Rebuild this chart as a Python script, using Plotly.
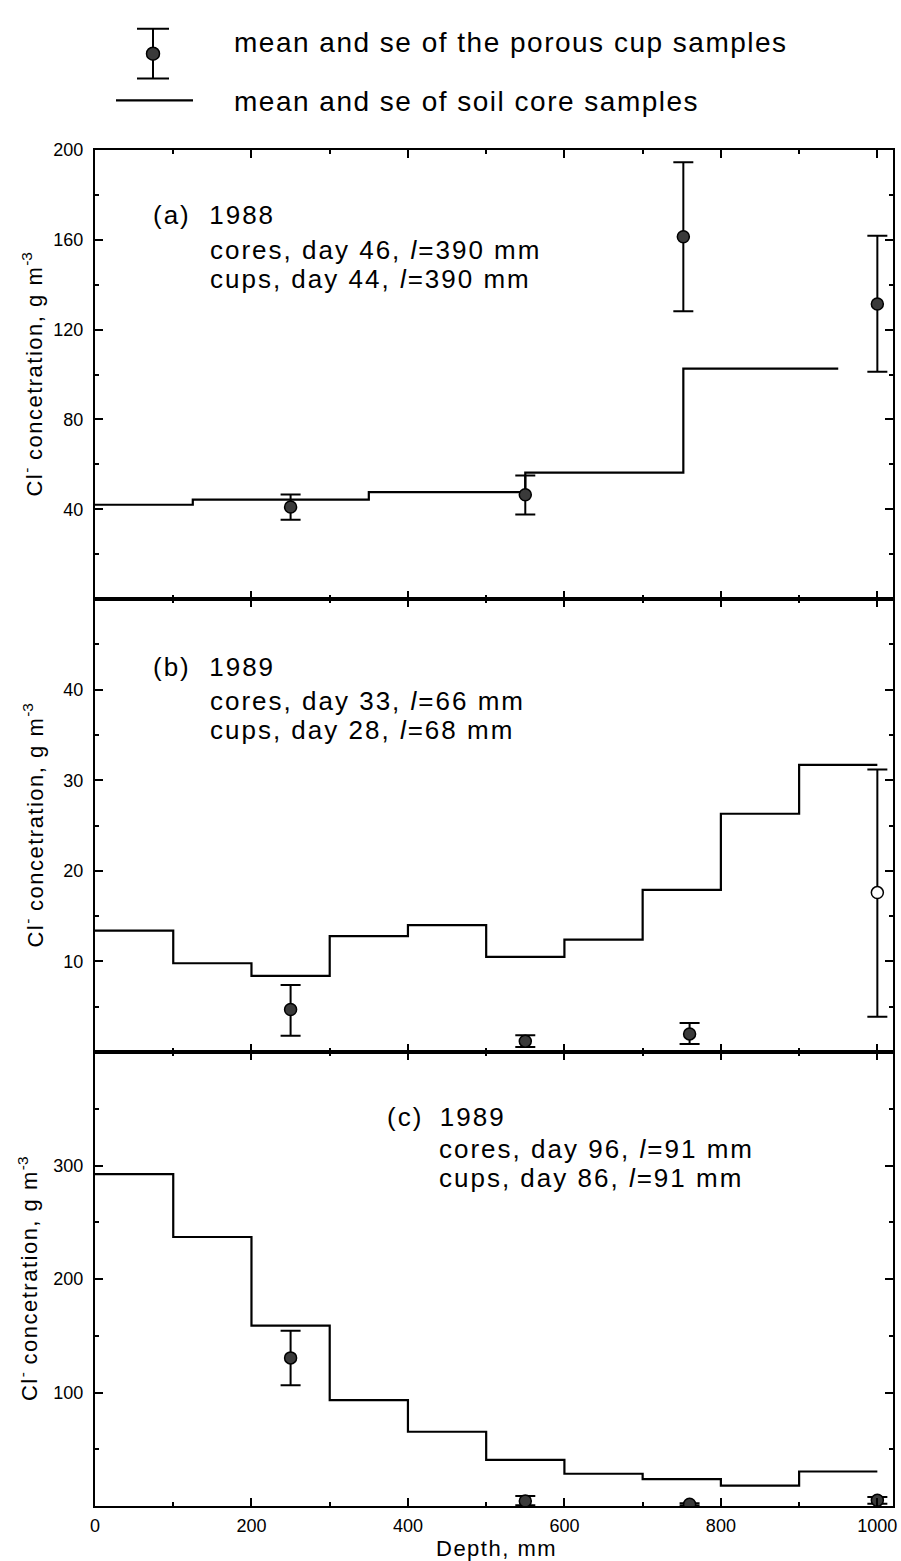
import plotly.graph_objects as go

FONT = "Liberation Sans, Arial, Helvetica, sans-serif"

# ---------------- data ----------------
# Panel (a) 1988
a_edges = [0, 125, 350, 550, 752, 950]
a_core = [42, 44.3, 47.6, 56.3, 102.6]
a_cup_depth = [250, 550, 752, 1000]
a_cup_mean = [41.0, 46.5, 161.4, 131.4]
a_cup_hi = [46.6, 55.0, 194.6, 161.8]
a_cup_lo = [35.3, 37.7, 128.2, 101.3]

# Panel (b) 1989
b_edges = [0, 100, 200, 300, 400, 500, 600, 700, 800, 900, 1000]
b_core = [13.4, 9.8, 8.4, 12.8, 14.0, 10.5, 12.4, 17.9, 26.3, 31.7]
b_cup_depth = [250, 550, 760, 1000]
b_cup_mean = [4.7, 1.2, 2.0, 17.6]
b_cup_hi = [7.4, 1.85, 3.2, 31.2]
b_cup_lo = [1.8, 0.55, 0.9, 3.9]

# Panel (c) 1989
c_edges = [0, 100, 200, 300, 400, 500, 600, 700, 800, 900, 1000]
c_core = [292.5, 237, 159, 93.2, 65.4, 40.6, 28.4, 23.7, 17.9, 30.4]
c_cup_depth = [250, 550, 760, 1000]
c_cup_mean = [130.5, 4.4, 1.5, 5.0]
c_cup_hi = [154.5, 8.8, 2.5, 8.0]
c_cup_lo = [106.3, 0.6, 0.5, 2.0]

x_ticks = [0, 200, 400, 600, 800, 1000]
a_yticks = [40, 80, 120, 160, 200]
b_yticks = [10, 20, 30, 40]
c_yticks = [100, 200, 300]

legend_labels = ["mean and se of the porous cup samples",
                 "mean and se of soil core samples"]

# panel labels: (label, [cores: day, l], [cups: day, l])
panel_info = {
    "a": ("(a)\u00a0\u00a01988", ("46", "390"), ("44", "390")),
    "b": ("(b)\u00a0\u00a01989", ("33", "66"), ("28", "68")),
    "c": ("(c)\u00a0\u20091989", ("96", "91"), ("86", "91")),
}

# ---------------- layout geometry (pixels) ----------------
W, H = 901, 1561
ML, MR, MT, MB = 95, 8, 0, 55
PW = W - ML - MR
PH = H - MT - MB


def py(p):  # pixel y -> paper y
    return (PH - p) / PH


def px(p):  # pixel x -> paper x
    return (p - ML) / PW


def sp(t, s, extra=""):
    return f'<span style="letter-spacing:{s}px{extra}">{t}</span>'


fig = go.Figure()

panels = [
    ("a", "", a_edges, a_core, a_cup_depth, a_cup_mean, a_cup_hi, a_cup_lo),
    ("b", "2", b_edges, b_core, b_cup_depth, b_cup_mean, b_cup_hi, b_cup_lo),
    ("c", "3", c_edges, c_core, c_cup_depth, c_cup_mean, c_cup_hi, c_cup_lo),
]

for key, sfx, edges, core, cd, cm, chi, clo in panels:
    fig.add_trace(go.Scatter(
        x=edges, y=core + [core[-1]], mode="lines", line_shape="hv",
        line=dict(color="black", width=2.2),
        xaxis="x" + sfx, yaxis="y" + sfx, showlegend=False, hoverinfo="skip"))
    fill = ["#3a3a3a"] * len(cd)
    if key == "b":
        fill[-1] = "white"
    fig.add_trace(go.Scatter(
        x=cd, y=cm, mode="markers",
        marker=dict(symbol="circle", size=12, color=fill,
                    line=dict(color="black", width=1.5)),
        error_y=dict(type="data", symmetric=False,
                     array=[h - m for h, m in zip(chi, cm)],
                     arrayminus=[m - l for m, l in zip(cm, clo)],
                     color="black", thickness=2, width=10),
        xaxis="x" + sfx, yaxis="y" + sfx, showlegend=False, hoverinfo="skip"))

# key (drawn on its own hidden axis in the top band, pixel units)
key_marker_x, key_marker_y, key_se = [153], [44], [25]
key_line_x, key_line_y = [116, 193], [91, 91]
fig.add_trace(go.Scatter(
    x=key_marker_x, y=key_marker_y, mode="markers",
    marker=dict(symbol="circle", size=13, color="#3a3a3a",
                line=dict(color="black", width=1.5)),
    error_y=dict(type="data", array=key_se, color="black", thickness=2, width=16),
    xaxis="x4", yaxis="y4", showlegend=False, hoverinfo="skip"))
fig.add_trace(go.Scatter(
    x=key_line_x, y=key_line_y, mode="lines",
    line=dict(color="black", width=2.2),
    xaxis="x4", yaxis="y4", showlegend=False, hoverinfo="skip"))

tickfont = dict(family=FONT, size=18, color="black")


def xaxis(show_labels, anchor):
    d = dict(
        domain=[0, 1], anchor=anchor, range=[0, 1020],
        tickmode="array", tickvals=x_ticks, showticklabels=show_labels,
        ticks="inside", ticklen=8, tickwidth=2, tickcolor="black",
        minor=dict(ticks="inside", ticklen=4, tickwidth=2, dtick=100, tick0=0, tickcolor="black"),
        showline=True, linewidth=2, linecolor="black", mirror="ticks",
        showgrid=False, zeroline=False,
    )
    if show_labels:
        d.update(tickfont=tickfont, ticklabelstandoff=2)
    return d


def yaxis(rng, tv, mdt, dom):
    return dict(
        domain=dom, range=rng, tickmode="array", tickvals=tv,
        ticks="inside", ticklen=8, tickwidth=2, tickcolor="black",
        minor=dict(ticks="inside", ticklen=4, tickwidth=2, dtick=mdt, tick0=0, tickcolor="black"),
        showline=True, linewidth=2, linecolor="black", mirror="ticks",
        showgrid=False, zeroline=False, tickfont=tickfont, ticklabelstandoff=6,
    )


a_dom = [py(593), py(141)]
b_dom = [py(1049), py(593)]
c_dom = [0, py(1049)]

fig.update_layout(
    width=W, height=H,
    margin=dict(l=ML, r=MR, t=MT, b=MB),
    paper_bgcolor="white", plot_bgcolor="white",
    font=dict(family=FONT, color="black"),
    xaxis=xaxis(False, "y"),
    yaxis=yaxis([0, 200], a_yticks, 20, a_dom),
    xaxis2=xaxis(False, "y2"),
    yaxis2=yaxis([0, 50], b_yticks, 5, b_dom),
    xaxis3=xaxis(True, "y3"),
    yaxis3=yaxis([0, 400], c_yticks, 50, c_dom),
    xaxis4=dict(domain=[0, 1], anchor="y4", range=[ML, W - MR], visible=False),
    yaxis4=dict(domain=[py(105), 1], anchor="x4", range=[105, 0], visible=False),
)

ann = []
# key text
for txt, yy in zip(legend_labels, [33, 92]):
    ann.append(dict(text=sp(txt, 1.5), x=px(232), y=py(yy), xref="paper", yref="paper",
                    xanchor="left", yanchor="middle", showarrow=False,
                    font=dict(family=FONT, size=28, color="black")))

# panel texts
ITAL_L = sp("l", 2, ";font-style:italic;font-size:26px")


def sample_line(kind, day, ell):
    return sp(f"{kind}, day {day}, ", 2) + ITAL_L + sp(f"={ell} mm", 2)


pos = {"a": (151, 208, [206, 242, 271]),
       "b": (151, 208, [661, 696, 725]),
       "c": (385, 437, [1114, 1147, 1176])}
for k, (xl, xc, ys) in pos.items():
    head, cores, cups = panel_info[k]
    items = [(sp(head, 2), xl, ys[0]),
             (sample_line("cores", *cores), xc, ys[1]),
             (sample_line("cups", *cups), xc, ys[2])]
    for txt, xx, yy in items:
        ann.append(dict(text=txt, x=px(xx), y=py(yy), xref="paper", yref="paper",
                        xanchor="left", yanchor="middle", showarrow=False,
                        font=dict(family=FONT, size=26, color="black")))

# y-axis titles
SUP = '<sup style="font-size:15px">{}</sup>'
ytitle = (sp("Cl", 1.5) + SUP.format("-") + sp(" concetration, g m", 1.5) + SUP.format("-3"))
for dom, cx in [(a_dom, 32), (b_dom, 33), (c_dom, 28)]:
    ann.append(dict(text=ytitle, x=px(cx), y=(dom[0] + dom[1]) / 2,
                    xref="paper", yref="paper", textangle=-90,
                    xanchor="center", yanchor="middle", showarrow=False,
                    font=dict(family=FONT, size=22, color="black")))

# x-axis title
ann.append(dict(text=sp("Depth, mm", 1.5), x=px(496), y=0, yshift=-42,
                xref="paper", yref="paper", xanchor="center", yanchor="middle",
                showarrow=False, font=dict(family=FONT, size=22, color="black")))

fig.update_layout(annotations=ann)

fig.write_html("out.html")
